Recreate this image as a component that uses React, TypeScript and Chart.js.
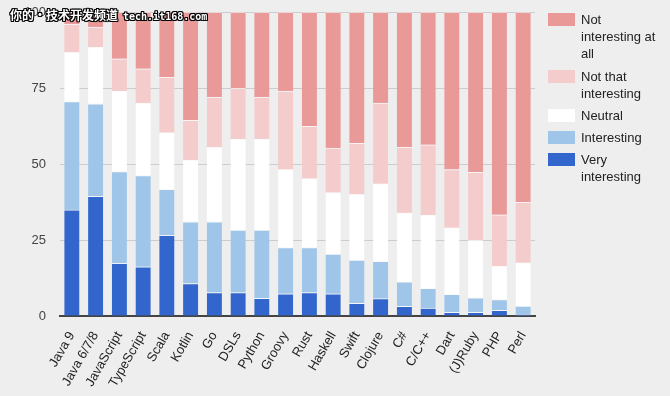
import React, { useEffect, useRef } from "react";
import { Chart, registerables } from "chart.js";

Chart.register(...registerables);

const categories = ["Java 9", "Java 6/7/8", "JavaScript", "TypeScript", "Scala", "Kotlin", "Go", "DSLs", "Python", "Groovy", "Rust", "Haskell", "Swift", "Clojure", "C#", "C/C++", "Dart", "(J)Ruby", "PHP", "Perl"];
const veryInteresting = [34.9, 39.4, 17.3, 16.2, 26.5, 10.7, 7.7, 7.7, 5.8, 7.3, 7.7, 7.3, 4.2, 5.7, 3.2, 2.6, 1.2, 1.2, 1.9, 0.4];
const interesting = [35.6, 30.4, 30.2, 30.0, 15.2, 20.3, 23.3, 20.6, 22.5, 15.2, 14.8, 13.1, 14.2, 12.3, 8.0, 6.5, 5.9, 4.8, 3.5, 2.9];
const neutral = [16.2, 18.6, 26.5, 23.8, 18.6, 20.3, 24.5, 29.9, 29.9, 25.7, 22.7, 20.2, 21.6, 25.5, 22.7, 24.1, 21.9, 18.9, 11.0, 14.2];
const notThatInteresting = [9.3, 6.6, 10.6, 11.3, 18.2, 13.1, 16.5, 16.7, 13.8, 25.8, 17.2, 14.6, 16.8, 26.5, 21.7, 23.1, 19.2, 22.4, 16.9, 19.9];
const notInterestingAtAll = [4.0, 5.0, 15.4, 18.7, 21.5, 35.6, 28.0, 25.1, 28.0, 26.0, 37.6, 44.8, 43.2, 30.0, 44.4, 43.7, 51.8, 52.7, 66.7, 62.6];
const yTicks = [0, 25, 50, 75, 100];

const seriesNames = ["Very interesting", "Interesting", "Neutral", "Not that interesting", "Not interesting at all"];
const seriesColors = ["#3366cc", "#9fc5e8", "#ffffff", "#f4cccc", "#ea9999"];
const legendLines = [["Not", "interesting at", "all"], ["Not that", "interesting"], ["Neutral"], ["Interesting"], ["Very", "interesting"]];
const legendTops = [13, 70, 109, 131, 153];

export default function App() {
  const ref = useRef<HTMLCanvasElement>(null);
  useEffect(() => {
    if (!ref.current) return;
    const values = [veryInteresting, interesting, neutral, notThatInteresting, notInterestingAtAll];
    const chart = new Chart(ref.current, {
      type: "bar",
      data: {
        labels: categories,
        datasets: values.map((v, i) => ({
          label: seriesNames[i],
          data: v,
          backgroundColor: seriesColors[i],
          borderColor: "rgba(255,255,255,0.6)",
          borderWidth: { top: 1, left: 0, right: 0, bottom: 0 },
          borderSkipped: false,
          barThickness: 15,
        })),
      },
      options: {
        animation: false,
        responsive: false,
        maintainAspectRatio: false,
        layout: { padding: { top: 12, right: 135, left: 0, bottom: 0 } },
        plugins: { legend: { display: false }, tooltip: { enabled: false } },
        scales: {
          x: {
            stacked: true,
            grid: { display: false },
            border: { display: true, color: "#444", width: 2 },
            ticks: {
              color: "#222",
              font: { family: "Liberation Sans, Arial, sans-serif", size: 13 },
              minRotation: 60,
              maxRotation: 60,
              padding: 5,
              autoSkip: false,
            },
            afterFit: (s: any) => { s.height = 80; },
          },
          y: {
            stacked: true,
            min: 0,
            max: 100,
            afterBuildTicks: (s: any) => { s.ticks = yTicks.map((v) => ({ value: v })); },
            grid: { color: "#cccccc", drawTicks: false, lineWidth: 1 },
            border: { display: false },
            ticks: {
              color: "#444",
              font: { family: "Liberation Sans, Arial, sans-serif", size: 13 },
              padding: 14,
            },
            afterFit: (s: any) => { s.width = 60; s.paddingTop = 0; s.paddingBottom = 0; },
          },
        },
      },
    });
    return () => chart.destroy();
  }, []);

  return (
    <div style={{ position: "fixed", left: 0, top: 0, width: 670, height: 396, background: "#eeeeee", overflow: "hidden", fontFamily: "Liberation Sans, Arial, sans-serif" }}>
      <canvas ref={ref} width={670} height={396} style={{ position: "absolute", left: 0, top: 0 }} />
      {legendLines.map((lines, i) => (
        <div key={i} style={{ position: "absolute", left: 548, top: legendTops[i], display: "flex" }}>
          <div style={{ width: 27, height: 13, background: seriesColors[4 - i], flex: "none" }} />
          <div style={{ marginLeft: 6, marginTop: -2, fontSize: 13, lineHeight: "17px", color: "#222" }}>
            {lines.map((l, j) => (<div key={j}>{l}</div>))}
          </div>
        </div>
      ))}
      <div style={{ position: "absolute", left: 10, top: 7, color: "#fff", whiteSpace: "nowrap", lineHeight: "16px", textShadow: "-1px -1px 0 #000, 1px -1px 0 #000, -1px 1px 0 #000, 1px 1px 0 #000, 0 1px 0 #000, 1px 0 0 #000, 0 -1px 0 #000, -1px 0 0 #000" }}>
        <span style={{ fontFamily: "Noto Sans CJK SC, sans-serif", fontSize: 12, fontWeight: "bold" }}>你的•技术开发频道</span>
        <span style={{ fontFamily: "DejaVu Sans Mono, monospace", fontSize: 10, fontWeight: "bold", marginLeft: 5 }}>tech.it168.com</span>
      </div>
    </div>
  );
}
